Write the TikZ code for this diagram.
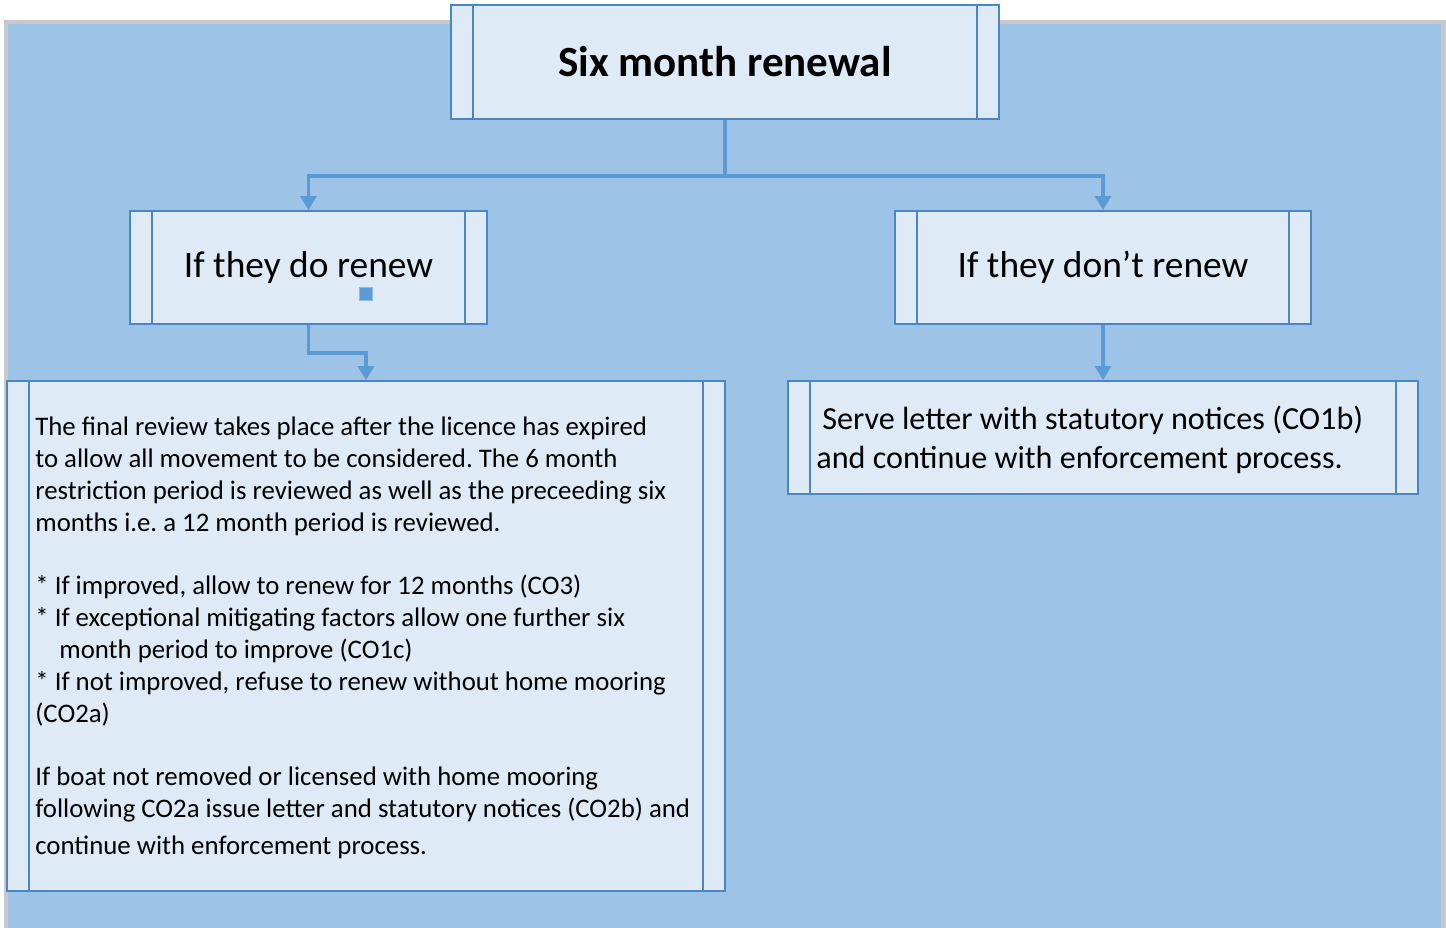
\documentclass[tikz,border=0pt]{standalone}
\usepackage{fontspec}
\setmainfont{Carlito}
\usetikzlibrary{arrows.meta,positioning}
\definecolor{framegray}{RGB}{200,200,200}
\definecolor{backblue}{RGB}{157,195,230}
\definecolor{boxfill}{RGB}{222,235,247}
\definecolor{boxline}{RGB}{74,134,197}
\definecolor{linkblue}{RGB}{91,155,213}
\frenchspacing

\tikzset{
  procbox/.style={draw=boxline, fill=boxfill, line width=1.1pt, inner sep=0pt,
    path picture={\draw[boxline, line width=1.1pt]
      ([xshift=0.44cm]path picture bounding box.north west) -- ([xshift=0.44cm]path picture bounding box.south west)
      ([xshift=-0.44cm]path picture bounding box.north east) -- ([xshift=-0.44cm]path picture bounding box.south east);}},
  link/.style={draw=linkblue, line width=1.8pt, -{Triangle[width=0.32cm,length=0.28cm]}},
}

\begin{document}
\begin{tikzpicture}[x=0.02cm,y=-0.02cm]
\useasboundingbox (0,0) rectangle (1446,928);
% background
\fill[framegray] (4,20) rectangle (1446,928);
\fill[backblue] (8,24) rectangle (1441,928);

\node[procbox, minimum width=10.96cm, minimum height=2.28cm, font=\fontsize{24.5}{30}\selectfont\bfseries] (renewal) at (725,62) {Six month renewal};
\node[procbox, minimum width=7.14cm, minimum height=2.26cm, font=\fontsize{21.3}{26}\selectfont] (dorenew) at (308.5,267.5) {\raisebox{-0.06cm}{If they do renew}};
\node[procbox, minimum width=8.32cm, minimum height=2.26cm, font=\fontsize{21.3}{26}\selectfont] (dontrenew) at (1103,267.5) {\raisebox{-0.06cm}{If they don’t renew}};
\node[procbox, minimum width=14.36cm, minimum height=10.2cm] (review) at (366,636) {};
\node[procbox, minimum width=12.62cm, minimum height=2.26cm] (enforce) at (1103,437.5) {};

% texts of the two lower boxes
\node[anchor=north west, align=left, inner sep=0pt, font=\fontsize{15.25}{18.1}\selectfont] (reviewtext) at (35,417)
{The final review takes place after the licence has expired\\
to allow all movement to be considered. The 6 month\\
restriction period is reviewed as well as the preceeding six\\
months i.e. a 12 month period is reviewed.\\[18.1pt]
* If improved, allow to renew for 12 months (CO3)\\
* If exceptional mitigating factors allow one further six\\
\hspace*{0.48cm}month period to improve (CO1c)\\
* If not improved, refuse to renew without home mooring\\
(CO2a)\\[18.1pt]
If boat not removed or licensed with home mooring\\
following CO2a issue letter and statutory notices (CO2b) and\\[3pt]
continue with enforcement process.};
\node[anchor=north west, align=left, inner sep=0pt, font=\fontsize{18.3}{21.8}\selectfont] (enforcetext) at (816,406)
{\hspace*{0.12cm}Serve letter with statutory notices (CO1b)\\
and continue with enforcement process.};

% small handle
\node[fill=linkblue, draw=linkblue!70!white, minimum size=0.26cm, inner sep=0pt] (handle) at (366,294) {};

% connectors
\coordinate (split) at (725,176);
\draw[link] (renewal.south) |- (split) -| (dorenew.north);
\draw[link] (split) -| (dontrenew.north);
\draw[link] (dorenew.south) -- ++(0,28) -| (review.north);
\draw[link] (dontrenew.south) -- (enforce.north);
\end{tikzpicture}
\end{document}
